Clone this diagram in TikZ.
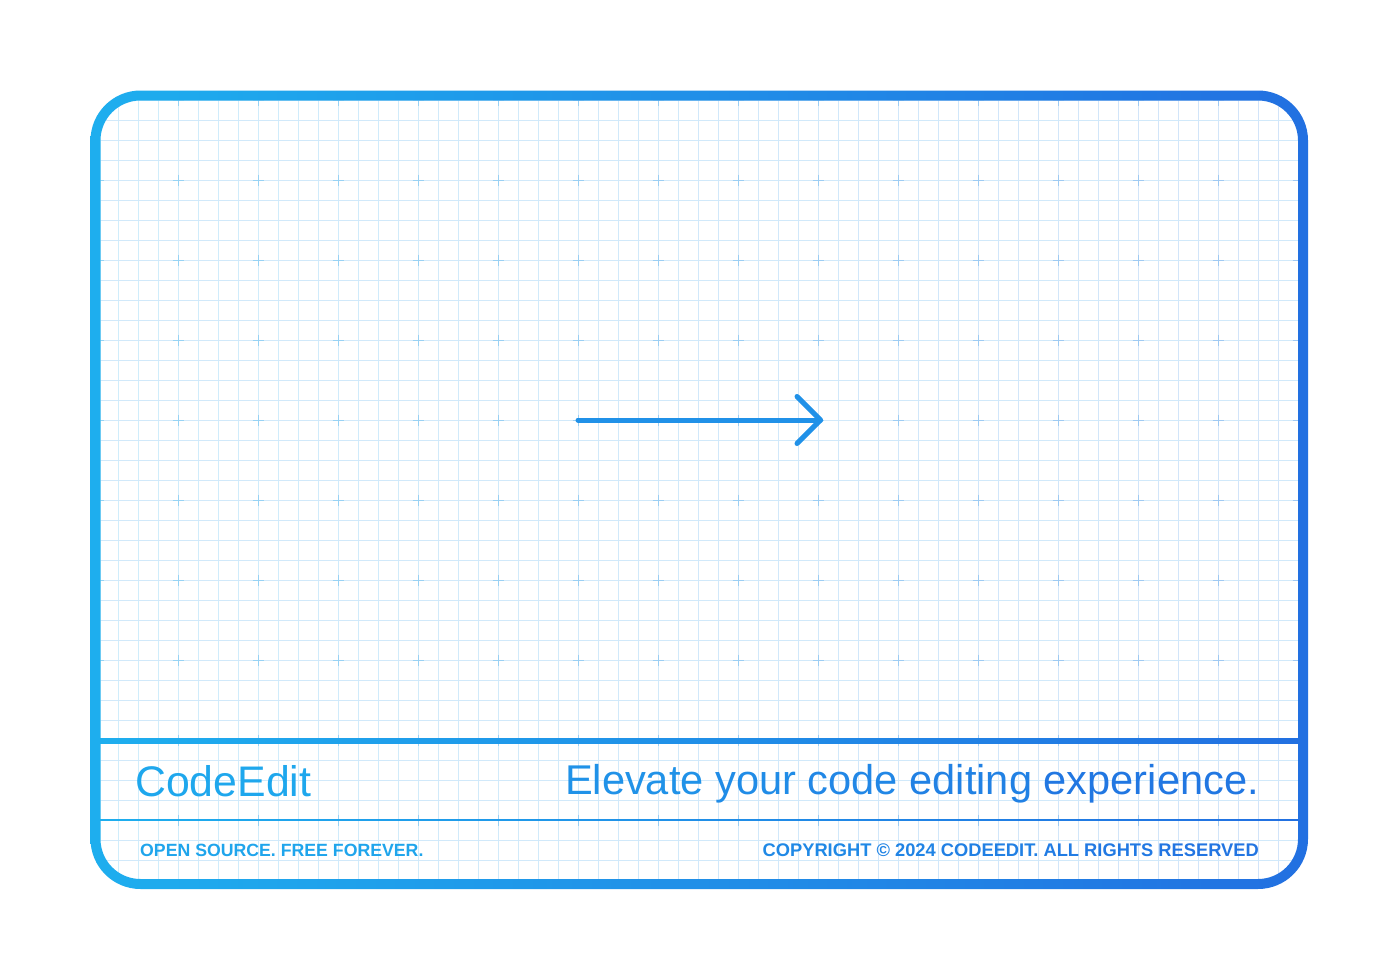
\documentclass[tikz,border=0pt]{standalone}
\usepackage{fontspec}
\setmainfont{Liberation Sans}
\definecolor{cL}{RGB}{30,174,238}
\definecolor{cR}{RGB}{34,112,225}
\definecolor{gridL}{RGB}{208,237,251}
\definecolor{gridR}{RGB}{210,228,249}
\definecolor{plusL}{RGB}{150,212,244}
\definecolor{plusR}{RGB}{160,200,242}
\tikzset{
  gridline/.style={line width=0.9pt},
  plusmark/.style={line width=1pt},
  arrowline/.style={line width=5pt, line cap=round, line join=round, color=cR!47!cL},
  bigtext/.style={inner sep=0pt, font=\fontsize{41.6}{50}\selectfont},
  smalltext/.style={inner sep=0pt, font=\bfseries\fontsize{17.7}{21}\selectfont},
}
\begin{document}
\begin{tikzpicture}[x=1pt,y=-1pt]
\useasboundingbox[fill=white] (0,0) rectangle (1398,980);
% grid inside card
\begin{scope}
  \clip[rounded corners=40pt] (100.5,100.5) rectangle (1298,879);
  \foreach \k in {0,...,60} {
    \pgfmathtruncatemacro\p{\k*100/60}
    \draw[gridline, color=gridR!\p!gridL] ({98+20*\k},90) -- ({98+20*\k},890);
  }
  \foreach \k in {0,...,39} {
    \draw[gridline, color=gridR!40!gridL] (90,{100+20*\k}) -- (1310,{100+20*\k});
  }
  \foreach \i in {0,...,15} {
    \pgfmathtruncatemacro\q{\i*100/15}
    \foreach \j in {0,...,10} {
      \draw[plusmark, color=plusR!\q!plusL] ({98+80*\i-5.5},{100+80*\j}) -- ({98+80*\i+5.5},{100+80*\j});
      \draw[plusmark, color=plusR!\q!plusL] ({98+80*\i},{100+80*\j-5.5}) -- ({98+80*\i},{100+80*\j+5.5});
    }
  }
\end{scope}
% card border
\path[even odd rule, left color=cL, right color=cR, shade]
  [rounded corners=50pt] (90.5,90.5) rectangle (1308,889)
  [rounded corners=40pt] (100.5,100.5) rectangle (1298,879);
% dividers
\shade[left color=cL, right color=cR] (100,738) rectangle (1298,743);
\shade[left color=cL, right color=cR] (100,819.3) rectangle (1298,820.7);
% arrow
\coordinate (arrowStart) at (578,420);
\coordinate (arrowEnd) at (820.5,420);
\coordinate (headTop) at (797,396.5);
\coordinate (headBottom) at (797,443.5);
\draw[arrowline] (arrowStart) -- (arrowEnd);
\draw[arrowline] (headTop) -- (arrowEnd) -- (headBottom);
% texts
\node[bigtext, anchor=base west, font=\fontsize{42.8}{50}\selectfont, text=cR!11!cL] (brand) at (135,796) {CodeEdit};
\node[bigtext, anchor=base east] (tagline) at (1259,794.5) {{\color{cR!45!cL}Elevate} {\color{cR!55!cL}your} {\color{cR!63!cL}code} {\color{cR!73!cL}editing} {\color{cR!88!cL}experience.}};
\node[smalltext, anchor=base west, text=cR!15!cL] (motto) at (140,856.7) {OPEN SOURCE. FREE FOREVER.};
\node[smalltext, anchor=base east, font=\bfseries\fontsize{18.3}{21}\selectfont] (copyright) at (1259,856.7) {{\color{cR!60!cL}COPYRIGHT} {\color{cR!67!cL}\textcopyright{} 2024} {\color{cR!74!cL}CODEEDIT.} {\color{cR!80!cL}ALL} {\color{cR!85!cL}RIGHTS} {\color{cR!92!cL}RESERVED}};
\end{tikzpicture}
\end{document}
